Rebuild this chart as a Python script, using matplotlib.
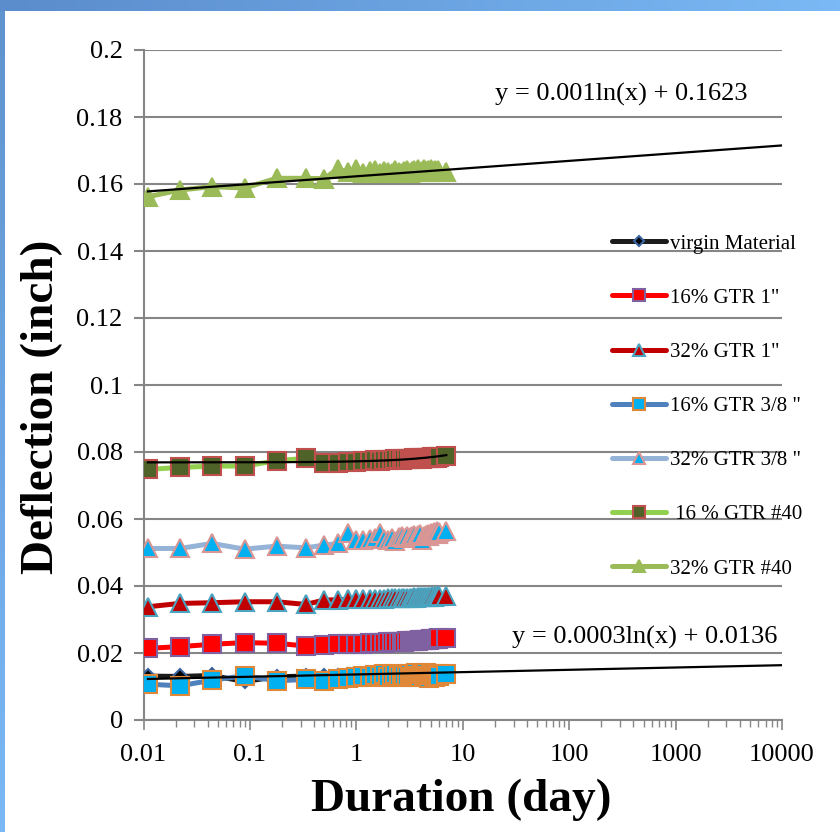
import numpy as np
import matplotlib.pyplot as plt
from matplotlib.colors import LinearSegmentedColormap
from matplotlib.ticker import FixedLocator, FixedFormatter, LogLocator, NullFormatter

plt.rcParams['font.family'] = ['Liberation Serif', 'DejaVu Serif']

# time of reading, days
days = [0.011, 0.022, 0.044, 0.089, 0.178, 0.333, 0.5, 0.667, 0.833, 1.0,
        1.167, 1.333, 1.5, 1.667, 1.833, 2.0, 2.167, 2.333, 2.5, 2.667,
        2.833, 3.0, 3.167, 3.333, 3.5, 3.667, 3.833, 4.0, 4.167, 4.333,
        4.5, 4.667, 4.833, 5.0, 5.167, 5.333, 5.5, 5.667, 5.833, 6.0, 7.0]

# deflection, inch
virgin = [0.0131, 0.0130, 0.0133, 0.0115, 0.0129, 0.0131, 0.0132,
          0.0131, 0.0133, 0.0132, 0.0134, 0.0133, 0.0135, 0.0134, 0.0133, 0.0135, 0.0136,
          0.0134, 0.0135, 0.0137, 0.0136, 0.0135, 0.0137, 0.0138, 0.0136, 0.0137, 0.0138,
          0.0137, 0.0139, 0.0138, 0.0137, 0.0139, 0.0140, 0.0138, 0.0139, 0.0140, 0.0139,
          0.0141, 0.0140, 0.0139, 0.0141]
gtr16_1in = [0.0214, 0.0219, 0.0226, 0.0231, 0.0229, 0.0221, 0.0224,
             0.0226, 0.0227, 0.0228, 0.0228, 0.0229, 0.0230, 0.0230, 0.0231, 0.0232, 0.0232,
             0.0233, 0.0233, 0.0234, 0.0234, 0.0235, 0.0235, 0.0236, 0.0236, 0.0237, 0.0237,
             0.0238, 0.0238, 0.0239, 0.0239, 0.0240, 0.0240, 0.0241, 0.0241, 0.0242, 0.0242,
             0.0243, 0.0243, 0.0244, 0.0245]
gtr32_1in = [0.0338, 0.0348, 0.0350, 0.0353, 0.0353, 0.0345, 0.0358,
             0.0359, 0.0360, 0.0360, 0.0361, 0.0361, 0.0362, 0.0362, 0.0362, 0.0363, 0.0363,
             0.0364, 0.0363, 0.0364, 0.0365, 0.0364, 0.0365, 0.0365, 0.0366, 0.0365, 0.0366,
             0.0367, 0.0366, 0.0367, 0.0367, 0.0368, 0.0367, 0.0368, 0.0369, 0.0368, 0.0369,
             0.0370, 0.0369, 0.0370, 0.0370]
gtr16_38 = [0.0107, 0.0102, 0.0119, 0.0132, 0.0117, 0.0121, 0.0117,
            0.0122, 0.0125, 0.0128, 0.0131, 0.0127, 0.0133, 0.0130, 0.0136, 0.0129, 0.0134,
            0.0138, 0.0131, 0.0127, 0.0135, 0.0132, 0.0137, 0.0129, 0.0134, 0.0140, 0.0131,
            0.0127, 0.0136, 0.0133, 0.0139, 0.0130, 0.0125, 0.0135, 0.0138, 0.0131, 0.0127,
            0.0134, 0.0137, 0.0130, 0.0136]
gtr32_38 = [0.0512, 0.0512, 0.0527, 0.0510, 0.0519, 0.0514, 0.0522, 0.0527, 0.0557,
            0.0538, 0.0536, 0.0541, 0.0544, 0.0557, 0.0540, 0.0537, 0.0543, 0.0534, 0.0546,
            0.0548, 0.0542, 0.0550, 0.0545, 0.0549, 0.0552, 0.0546, 0.0551, 0.0554, 0.0536,
            0.0548, 0.0553, 0.0556, 0.0550, 0.0559, 0.0554, 0.0561, 0.0557, 0.0563, 0.0555,
            0.0560, 0.0563]
gtr16_40 = [0.0748, 0.0754, 0.0758, 0.0758, 0.0774, 0.0781, 0.0768,
            0.0768, 0.0769, 0.0770, 0.0772, 0.0774, 0.0775, 0.0774, 0.0776, 0.0777, 0.0776,
            0.0778, 0.0779, 0.0777, 0.0779, 0.0780, 0.0778, 0.0780, 0.0781, 0.0779, 0.0781,
            0.0782, 0.0780, 0.0782, 0.0781, 0.0783, 0.0782, 0.0783, 0.0784, 0.0782, 0.0784,
            0.0783, 0.0785, 0.0784, 0.0787]
gtr32_40 = [0.1562, 0.1582, 0.1592, 0.1588, 0.1617, 0.1617, 0.1616,
            0.1645, 0.1635, 0.1644, 0.1632, 0.1638, 0.1643, 0.1634, 0.1640, 0.1636, 0.1633,
            0.1641, 0.1637, 0.1632, 0.1639, 0.1643, 0.1634, 0.1638, 0.1641, 0.1635, 0.1644,
            0.1637, 0.1640, 0.1646, 0.1638, 0.1642, 0.1636, 0.1645, 0.1640, 0.1638, 0.1643,
            0.1639, 0.1641, 0.1637, 0.1636]

labels = ['virgin Material', '16% GTR 1"', '32% GTR 1"', '16% GTR 3/8 "',
          '32% GTR 3/8 "', ' 16 % GTR #40', '32% GTR #40']

x_ticks = [0.01, 0.1, 1, 10, 100, 1000, 10000]
x_tick_labels = ['0.01', '0.1', '1', '10', '100', '1000', '10000']
y_ticks = [0, 0.02, 0.04, 0.06, 0.08, 0.1, 0.12, 0.14, 0.16, 0.18, 0.2]
y_tick_labels = ['0', '0.02', '0.04', '0.06', '0.08', '0.1', '0.12', '0.14', '0.16', '0.18', '0.2']

# trendlines printed on the chart: y = a ln(x) + b
log_trends = [(0.0003, 0.0136), (0.001, 0.1623)]
log_trend_text = ['y = 0.0003ln(x) + 0.0136', 'y = 0.001ln(x) + 0.1623']
lin_trend = (0.00031, 0.0769)  # linear fit through 16 % GTR #40

series = [virgin, gtr16_1in, gtr32_1in, gtr16_38, gtr32_38, gtr16_40, gtr32_40]
# line colour, marker, face, edge, size
styles = [('#1c1c1c', 'D', '#000000', '#3a63a0', 7.5),
          ('#ff0000', 's', '#ff0000', '#7f60a0', 12.5),
          ('#c00000', '^', '#c00000', '#4aa3bf', 13.5),
          ('#4f81bd', 's', '#00b0f0', '#e0883a', 12.5),
          ('#95b3d7', '^', '#00b0f0', '#d99694', 13.5),
          ('#92d050', 's', '#4f6228', '#c0504d', 12.5),
          ('#9bbb59', '^', '#9bbb59', '#9bbb59', 13.5)]

fig = plt.figure(figsize=(8.4, 8.32), dpi=100)

# blue frame on top / left edge
top_band = fig.add_axes([0, 1 - 11 / 832, 1, 11 / 832])
top_band.imshow(np.linspace(0, 1, 256).reshape(1, -1), aspect='auto',
                cmap=LinearSegmentedColormap.from_list('b', ['#5b8ccc', '#7ab9f5']))
top_band.axis('off')
left_band = fig.add_axes([0, 0, 5 / 840, 1 - 11 / 832])
left_band.imshow(np.linspace(0, 1, 256).reshape(-1, 1), aspect='auto',
                 cmap=LinearSegmentedColormap.from_list('b2', ['#5f93cf', '#7ab9f5']))
left_band.axis('off')

ax = fig.add_axes([143.5 / 840, 1 - 720 / 832, 638.5 / 840, 670 / 832])

for vals, lab, (lc, m, fc, ec, ms) in zip(series, labels, styles):
    ax.plot(days, vals, color=lc, lw=3.6, marker=m, ms=ms, mfc=fc, mec=ec,
            mew=1.5, label=lab, solid_capstyle='round', zorder=3)

xs = np.logspace(np.log10(days[0]), 4, 300)
for a, b in log_trends:
    ax.plot(xs, a * np.log(xs) + b, color='black', lw=1.6, zorder=5)
xl = np.linspace(days[0], days[-1], 200)
ax.plot(xl, lin_trend[0] * xl + lin_trend[1], color='black', lw=1.6, zorder=5)

ax.text(516, 0.0245, log_trend_text[0], fontsize=19, ha='center', va='center', zorder=6)
ax.text(307, 0.1866, log_trend_text[1], fontsize=19, ha='center', va='center', zorder=6)

ax.set_xscale('log')
ax.set_xlim(0.01, 10000)
ax.set_ylim(0, 0.2)
ax.xaxis.set_major_locator(FixedLocator(x_ticks))
ax.xaxis.set_major_formatter(FixedFormatter(x_tick_labels))
ax.xaxis.set_minor_locator(LogLocator(base=10, subs=range(2, 10)))
ax.xaxis.set_minor_formatter(NullFormatter())
ax.yaxis.set_major_locator(FixedLocator(y_ticks))
ax.yaxis.set_major_formatter(FixedFormatter(y_tick_labels))

for s in ['top', 'right']:
    ax.spines[s].set_visible(False)
for s in ['left', 'bottom']:
    ax.spines[s].set_color('#868686')
    ax.spines[s].set_linewidth(1.5)
ax.yaxis.grid(True, color='#868686', lw=1.5)
ax.set_axisbelow(True)

ax.tick_params(axis='y', direction='out', length=7, width=1.5, color='#868686',
               labelsize=19, pad=8)
ax.tick_params(axis='x', which='major', direction='out', length=7, width=1.2,
               color='#868686', labelsize=19, pad=10)
ax.tick_params(axis='x', which='minor', direction='out', length=5, width=1.0,
               color='#868686')

ax.set_xlabel('Duration (day)', fontsize=34, fontweight='bold')
ax.xaxis.set_label_coords(0.497, -0.087)
ax.set_ylabel('Deflection (inch)', fontsize=34, fontweight='bold')
ax.yaxis.set_label_coords(-0.126, 0.467)

ax.legend(loc='upper left', bbox_to_anchor=(612 / 840, 1 - 234 / 832),
          bbox_transform=fig.transFigure, frameon=False, fontsize=15,
          handlelength=2.6, handletextpad=0.2, labelspacing=1.66,
          borderpad=0, borderaxespad=0, markerscale=0.65)

fig.savefig('out.png', dpi=100)
